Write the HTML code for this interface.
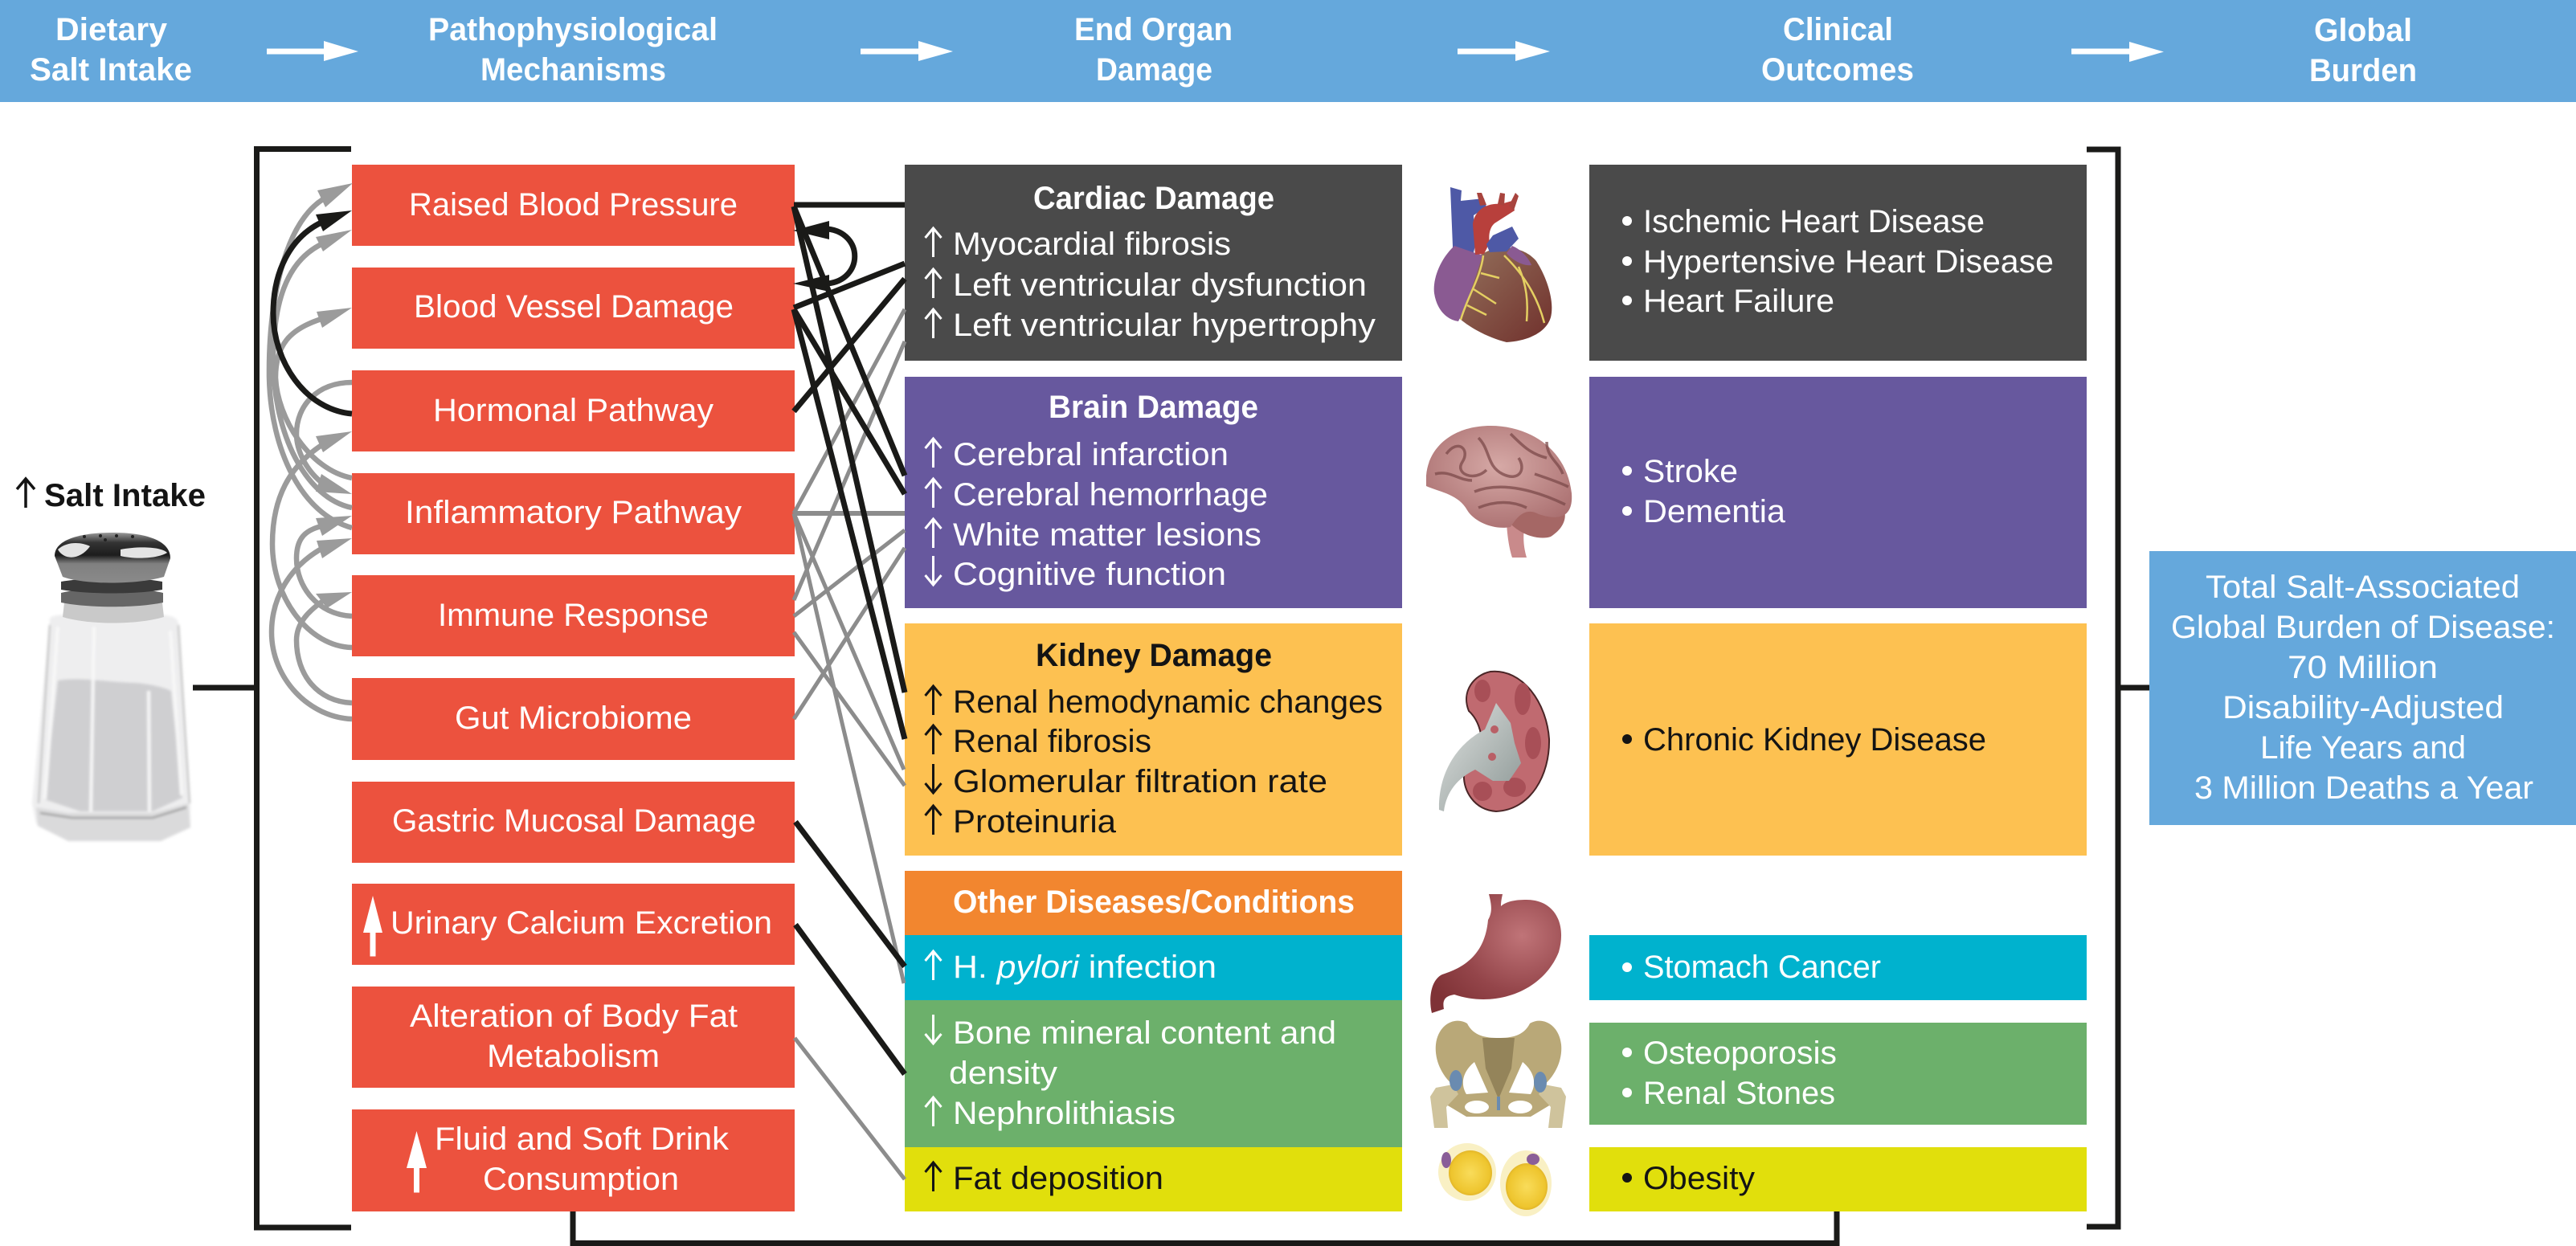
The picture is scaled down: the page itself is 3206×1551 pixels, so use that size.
<!DOCTYPE html>
<html lang="en">
<head>
<meta charset="utf-8">
<title>Salt Intake Diagram</title>
<style>
html,body{margin:0;padding:0;background:#fff;width:3206px;height:1551px;overflow:hidden}
svg{display:block}
text{font-family:"Liberation Sans",sans-serif;font-size:40px;fill:#fff}
.b{font-weight:bold}
.k{fill:#141414}
</style>
</head>
<body>
<svg xmlns="http://www.w3.org/2000/svg" width="3206" height="1551" viewBox="0 0 3206 1551">
<defs>
<linearGradient id="cap" x1="0" y1="0" x2="0" y2="1"><stop offset="0" stop-color="#9a9a9a"/><stop offset=".2" stop-color="#333"/><stop offset=".45" stop-color="#1d1d1d"/><stop offset=".62" stop-color="#808080"/><stop offset="1" stop-color="#8a8a8a"/></linearGradient>
<linearGradient id="kp" x1="0" y1="0" x2="1" y2="1"><stop offset="0" stop-color="#dfe2e0"/><stop offset="1" stop-color="#8b9694"/></linearGradient>
<radialGradient id="br" cx=".5" cy=".4" r=".7"><stop offset="0" stop-color="#d6a9a6"/><stop offset="1" stop-color="#a76b6c"/></radialGradient>
<radialGradient id="st" cx=".7" cy=".35" r=".8"><stop offset="0" stop-color="#c07478"/><stop offset=".6" stop-color="#94454a"/><stop offset="1" stop-color="#7f3236"/></radialGradient>
<radialGradient id="fat" cx=".5" cy=".5" r=".55"><stop offset="0" stop-color="#f9dc5a"/><stop offset=".8" stop-color="#eec52e"/><stop offset="1" stop-color="#d9a924"/></radialGradient>
<linearGradient id="hrt" x1="0" y1="0" x2="1" y2="1"><stop offset="0" stop-color="#94715c"/><stop offset="1" stop-color="#70302c"/></linearGradient>
<filter id="sf"><feGaussianBlur stdDeviation="1.5"/></filter>
</defs>

<!-- header -->
<rect x="0" y="0" width="3206" height="127" fill="#65a8dc"/>
<text class="b" x="69" y="50" textLength="139" lengthAdjust="spacingAndGlyphs">Dietary</text>
<text class="b" x="37" y="100" textLength="202" lengthAdjust="spacingAndGlyphs">Salt Intake</text>
<text class="b" x="533" y="50" textLength="360" lengthAdjust="spacingAndGlyphs">Pathophysiological</text>
<text class="b" x="598" y="100" textLength="231" lengthAdjust="spacingAndGlyphs">Mechanisms</text>
<text class="b" x="1337" y="50" textLength="197" lengthAdjust="spacingAndGlyphs">End Organ</text>
<text class="b" x="1364" y="100" textLength="145" lengthAdjust="spacingAndGlyphs">Damage</text>
<text class="b" x="2219" y="50" textLength="137" lengthAdjust="spacingAndGlyphs">Clinical</text>
<text class="b" x="2192" y="100" textLength="190" lengthAdjust="spacingAndGlyphs">Outcomes</text>
<text class="b" x="2880" y="51" textLength="122" lengthAdjust="spacingAndGlyphs">Global</text>
<text class="b" x="2874" y="101" textLength="134" lengthAdjust="spacingAndGlyphs">Burden</text>
<g fill="#fff">
<path d="M332 60.500H403V51L446 64 403 76V67.500H332Z"/>
<path d="M1071 60.500H1143V51L1186 64 1143 76V67.500H1071Z"/>
<path d="M1814 60.500H1886V51L1929 64 1886 76V67.500H1814Z"/>
<path d="M2578 60.500H2650V52L2693 64.500 2650 77V67.500H2578Z"/>
</g>

<!-- brackets -->
<g fill="none" stroke="#1a1a18" stroke-width="7">
<path d="M437 185.500H319.500V1528H437"/>
<path d="M240 856H319"/>
<path d="M2597 186H2636V1527H2597"/>
<path d="M2636 856H2675"/>
<path d="M713 1508V1547.500H2286V1508"/>
</g>

<!-- red boxes -->
<g fill="#ec523e">
<rect x="438" y="205" width="551" height="101"/>
<rect x="438" y="333" width="551" height="101"/>
<rect x="438" y="461" width="551" height="101"/>
<rect x="438" y="589" width="551" height="101"/>
<rect x="438" y="716" width="551" height="101"/>
<rect x="438" y="844" width="551" height="102"/>
<rect x="438" y="973" width="551" height="101"/>
<rect x="438" y="1100" width="551" height="101"/>
<rect x="438" y="1228" width="551" height="126"/>
<rect x="438" y="1381" width="551" height="127"/>
</g>
<text x="509" y="268" textLength="409" lengthAdjust="spacingAndGlyphs">Raised Blood Pressure</text>
<text x="515" y="395" textLength="398" lengthAdjust="spacingAndGlyphs">Blood Vessel Damage</text>
<text x="539" y="524" textLength="349" lengthAdjust="spacingAndGlyphs">Hormonal Pathway</text>
<text x="504" y="651" textLength="419" lengthAdjust="spacingAndGlyphs">Inflammatory Pathway</text>
<text x="545" y="779" textLength="337" lengthAdjust="spacingAndGlyphs">Immune Response</text>
<text x="566" y="907" textLength="295" lengthAdjust="spacingAndGlyphs">Gut Microbiome</text>
<text x="488" y="1035" textLength="453" lengthAdjust="spacingAndGlyphs">Gastric Mucosal Damage</text>
<text x="486" y="1162" textLength="475" lengthAdjust="spacingAndGlyphs">Urinary Calcium Excretion</text>
<text x="510" y="1278" textLength="408" lengthAdjust="spacingAndGlyphs">Alteration of Body Fat</text>
<text x="606" y="1328" textLength="215" lengthAdjust="spacingAndGlyphs">Metabolism</text>
<text x="541" y="1431" textLength="366" lengthAdjust="spacingAndGlyphs">Fluid and Soft Drink</text>
<text x="601" y="1481" textLength="244" lengthAdjust="spacingAndGlyphs">Consumption</text>
<g fill="#fff">
<path d="M464 1115 476 1161H467.500V1190.500H460.500V1161H452Z"/>
<path d="M518.500 1408 531 1454H522V1484.500H515V1454H506Z"/>
</g>

<!-- middle boxes -->
<rect x="1126" y="205" width="619" height="244" fill="#4a4a4a"/>
<rect x="1126" y="469" width="619" height="288" fill="#67589e"/>
<rect x="1126" y="776" width="619" height="289" fill="#fdc151"/>
<rect x="1126" y="1084" width="619" height="80" fill="#f2862f"/>
<rect x="1126" y="1164" width="619" height="81" fill="#00b2ce"/>
<rect x="1126" y="1245" width="619" height="183" fill="#6cb06b"/>
<rect x="1126" y="1428" width="619" height="80" fill="#e1df0c"/>

<!-- right boxes -->
<rect x="1978" y="205" width="619" height="244" fill="#4a4a4a"/>
<rect x="1978" y="469" width="619" height="288" fill="#67589e"/>
<rect x="1978" y="776" width="619" height="289" fill="#fdc151"/>
<rect x="1978" y="1164" width="619" height="81" fill="#00b2ce"/>
<rect x="1978" y="1273" width="619" height="127" fill="#6cb06b"/>
<rect x="1978" y="1428" width="619" height="80" fill="#e1df0c"/>
<rect x="2675" y="686" width="531" height="341" fill="#65a8dc"/>

<!-- left feedback curves -->
<g fill="none" stroke="#9b9b9b" stroke-width="6.500">
<path d="M438 657C375 640 337 560 335 470C334 380 352 280 402 248"/>
<path d="M438 632C380 620 341 540 340 450C340 380 355 325 402 303"/>
<path d="M438 595C385 585 345 520 343 470C343 430 360 410 400 397"/>
<path d="M438 476C395 476 369 505 369 540C369 560 380 585 402 602"/>
<path d="M438 767C395 765 369 730 369 695C369 670 380 660 400 655"/>
<path d="M438 806C385 805 339 745 339 677C339 620 360 580 402 553"/>
<path d="M438 875C395 873 369 840 369 797C369 775 385 760 402 748"/>
<path d="M438 895C385 893 338 845 338 787C338 745 360 705 402 682"/>
</g>
<g fill="#9b9b9b">
<path d="M439 228 395 237 405 258Z"/>
<path d="M438 286 393 295 402 313Z"/>
<path d="M438 383 394 388 401 408Z"/>
<path d="M438 537 393 543 402 563Z"/>
<path d="M438 615 400 590 393 612Z"/>
<path d="M438 642 393 645 401 667Z"/>
<path d="M438 670 394 673 401 695Z"/>
<path d="M438 737 393 739 407 757Z"/>
</g>
<path d="M438 515C380 510 340 450 340 390C340 340 360 295 402 276" fill="none" stroke="#1a1a18" stroke-width="7"/>
<path d="M438 262 393 267 402 288Z" fill="#1a1a18"/>

<!-- connectors grey -->
<g fill="none" stroke="#8c8c8c" stroke-width="5">
<path d="M988 639H1126" stroke-width="6"/>
<path d="M988 639 1126 385"/>
<path d="M988 639 1125 958"/>
<path d="M988 639 1048 900 1125 1224"/>
<path d="M988 747 1126 425"/>
<path d="M988 767 1126 660"/>
<path d="M988 787 1126 978"/>
<path d="M988 895 1126 682"/>
<path d="M989 1292 1126 1468"/>
</g>
<!-- connectors black -->
<g fill="none" stroke="#1a1a18" stroke-width="7">
<path d="M988 255H1126"/>
<path d="M988 257 1126 592"/>
<path d="M988 257 1126 862"/>
<path d="M988 383 1126 328"/>
<path d="M988 385 1126 615"/>
<path d="M988 385 1126 920"/>
<path d="M988 512 1126 347"/>
<path d="M990 1023 1126 1203"/>
<path d="M990 1151 1126 1337"/>
<path d="M1030 285C1075 290 1075 348 1030 353"/>
</g>
<g fill="#1a1a18">
<path d="M987 287 1032 275V298Z"/>
<path d="M987 353 1032 342V363Z"/>
</g>

<!-- middle text -->
<text class="b" x="1286" y="260" textLength="300" lengthAdjust="spacingAndGlyphs">Cardiac Damage</text>
<text x="1186" y="317" textLength="346" lengthAdjust="spacingAndGlyphs">Myocardial fibrosis</text>
<text x="1186" y="368" textLength="515" lengthAdjust="spacingAndGlyphs">Left ventricular dysfunction</text>
<text x="1186" y="418" textLength="526" lengthAdjust="spacingAndGlyphs">Left ventricular hypertrophy</text>
<text class="b" x="1305" y="520" textLength="261" lengthAdjust="spacingAndGlyphs">Brain Damage</text>
<text x="1186" y="579" textLength="343" lengthAdjust="spacingAndGlyphs">Cerebral infarction</text>
<text x="1186" y="629" textLength="392" lengthAdjust="spacingAndGlyphs">Cerebral hemorrhage</text>
<text x="1186" y="679" textLength="384" lengthAdjust="spacingAndGlyphs">White matter lesions</text>
<text x="1186" y="728" textLength="340" lengthAdjust="spacingAndGlyphs">Cognitive function</text>
<text class="b k" x="1289" y="829" textLength="294" lengthAdjust="spacingAndGlyphs">Kidney Damage</text>
<text class="k" x="1186" y="887" textLength="535" lengthAdjust="spacingAndGlyphs">Renal hemodynamic changes</text>
<text class="k" x="1186" y="936" textLength="247" lengthAdjust="spacingAndGlyphs">Renal fibrosis</text>
<text class="k" x="1186" y="986" textLength="466" lengthAdjust="spacingAndGlyphs">Glomerular filtration rate</text>
<text class="k" x="1186" y="1036" textLength="203" lengthAdjust="spacingAndGlyphs">Proteinuria</text>
<text class="b" x="1186" y="1136" textLength="500" lengthAdjust="spacingAndGlyphs">Other Diseases/Conditions</text>
<text x="1186" y="1217" textLength="328" lengthAdjust="spacingAndGlyphs">H. <tspan font-style="italic">pylori</tspan> infection</text>
<text x="1186" y="1299" textLength="477" lengthAdjust="spacingAndGlyphs">Bone mineral content and</text>
<text x="1181" y="1349" textLength="135" lengthAdjust="spacingAndGlyphs">density</text>
<text x="1186" y="1399" textLength="277" lengthAdjust="spacingAndGlyphs">Nephrolithiasis</text>
<text class="k" x="1186" y="1480" textLength="262" lengthAdjust="spacingAndGlyphs">Fat deposition</text>

<!-- thin arrows -->
<g fill="none" stroke="#fff" stroke-width="3">
<path d="M1161.500 320V284M1151.500 296 1161.500 284 1171.500 296"/>
<path d="M1161.500 371V335M1151.500 347 1161.500 335 1171.500 347"/>
<path d="M1161.500 421V385M1151.500 397 1161.500 385 1171.500 397"/>
<path d="M1161.500 582V546M1151.500 558 1161.500 546 1171.500 558"/>
<path d="M1161.500 632V596M1151.500 608 1161.500 596 1171.500 608"/>
<path d="M1161.500 682V646M1151.500 658 1161.500 646 1171.500 658"/>
<path d="M1161.500 692V728M1151.500 716 1161.500 728 1171.500 716"/>
<path d="M1161.500 1220V1184M1151.500 1196 1161.500 1184 1171.500 1196"/>
<path d="M1161.500 1263V1299M1151.500 1287 1161.500 1299 1171.500 1287"/>
<path d="M1161.500 1402V1366M1151.500 1378 1161.500 1366 1171.500 1378"/>
</g>
<g fill="none" stroke="#141414" stroke-width="3">
<path d="M1161.500 890V854M1151.500 866 1161.500 854 1171.500 866"/>
<path d="M1161.500 939V903M1151.500 915 1161.500 903 1171.500 915"/>
<path d="M1161.500 951V987M1151.500 975 1161.500 987 1171.500 975"/>
<path d="M1161.500 1039V1003M1151.500 1015 1161.500 1003 1171.500 1015"/>
<path d="M1161.500 1483V1447M1151.500 1459 1161.500 1447 1171.500 1459"/>
<path d="M32 632V596M21 609 32 596 43 609" stroke-width="3.500"/>
</g>
<text class="b k" x="55" y="630" textLength="201" lengthAdjust="spacingAndGlyphs">Salt Intake</text>

<!-- right text -->
<g fill="#fff">
<circle cx="2025" cy="275" r="6"/><circle cx="2025" cy="325" r="6"/><circle cx="2025" cy="374" r="6"/>
<circle cx="2025" cy="586" r="6"/><circle cx="2025" cy="636" r="6"/>
<circle cx="2025" cy="1204" r="6"/><circle cx="2025" cy="1310" r="6"/><circle cx="2025" cy="1360" r="6"/>
</g>
<g fill="#141414"><circle cx="2025" cy="920" r="6"/><circle cx="2025" cy="1466" r="6"/></g>
<text x="2045" y="289" textLength="425" lengthAdjust="spacingAndGlyphs">Ischemic Heart Disease</text>
<text x="2045" y="339" textLength="511" lengthAdjust="spacingAndGlyphs">Hypertensive Heart Disease</text>
<text x="2045" y="388" textLength="238" lengthAdjust="spacingAndGlyphs">Heart Failure</text>
<text x="2045" y="600" textLength="118" lengthAdjust="spacingAndGlyphs">Stroke</text>
<text x="2045" y="650" textLength="177" lengthAdjust="spacingAndGlyphs">Dementia</text>
<text class="k" x="2045" y="934" textLength="427" lengthAdjust="spacingAndGlyphs">Chronic Kidney Disease</text>
<text x="2045" y="1217" textLength="296" lengthAdjust="spacingAndGlyphs">Stomach Cancer</text>
<text x="2045" y="1324" textLength="241" lengthAdjust="spacingAndGlyphs">Osteoporosis</text>
<text x="2045" y="1374" textLength="239" lengthAdjust="spacingAndGlyphs">Renal Stones</text>
<text class="k" x="2045" y="1480" textLength="139" lengthAdjust="spacingAndGlyphs">Obesity</text>
<text x="2745" y="744" textLength="391" lengthAdjust="spacingAndGlyphs">Total Salt-Associated</text>
<text x="2702" y="794" textLength="478" lengthAdjust="spacingAndGlyphs">Global Burden of Disease:</text>
<text x="2847" y="844" textLength="187" lengthAdjust="spacingAndGlyphs">70 Million</text>
<text x="2766" y="894" textLength="350" lengthAdjust="spacingAndGlyphs">Disability-Adjusted</text>
<text x="2813" y="944" textLength="256" lengthAdjust="spacingAndGlyphs">Life Years and</text>
<text x="2731" y="994" textLength="422" lengthAdjust="spacingAndGlyphs">3 Million Deaths a Year</text>

<!-- salt shaker -->
<g>
<g filter="url(#sf)">
<path d="M62 772C60 765 78 765 100 765H190C212 765 224 768 222 780L237 1000V1030L200 1047H85L45 1025 40 1000Z" fill="#eeeeef"/>
<path d="M72 847C100 842 140 850 170 850C190 852 205 856 213 860L227 993 190 1010H100L55 995Z" fill="#cfcfd1"/>
<path d="M45 1005 85 1012H190L234 1000 237 1030 200 1047H85L47 1028Z" fill="#dadadb"/>
<path d="M72 780 56 995M212 785 226 990M117 780 113 1010M185 860 186 1010" stroke="#f8f8f8" stroke-width="4" fill="none"/>
<path d="M62 778 48 1000M222 778 236 1000" stroke="#b9b9b9" stroke-width="2" fill="none"/>
<path d="M50 1012 90 1018H190L232 1005" stroke="#8a8a8a" stroke-width="2" fill="none"/>
</g>
<path d="M80 750H202L204 768C170 778 110 778 78 768Z" fill="#c9c9c9"/>
<path d="M76 738C110 730 170 730 203 738V750C170 757 110 757 76 750Z" fill="#666"/>
<path d="M76 724C110 718 170 718 202 724V734C170 740 110 740 76 734Z" fill="#3a3a3a"/>
<path d="M68 692C68 670 105 663 140 663C180 663 212 672 212 695L204 718C170 728 105 728 78 718Z" fill="url(#cap)"/>
<path d="M72 684C84 673 102 675 112 680 100 697 80 698 72 684Z" fill="#e4e4e4"/>
<path d="M150 684C170 680 200 680 208 688 195 696 165 696 150 692Z" fill="#e4e4e4"/>
<g fill="#222"><circle cx="105" cy="668" r="2"/><circle cx="125" cy="667" r="2"/><circle cx="145" cy="667" r="2"/><circle cx="165" cy="668" r="2"/><circle cx="131" cy="672" r="2"/></g>
</g>

<!-- heart -->
<g>
<path d="M1805 233 1819 237 1818 250 1847 247 1850 258 1834 268 1836 306 1830 330H1808L1808 306Z" fill="#4e59a6"/>
<path d="M1843 317C1870 300 1900 310 1912 325 1925 345 1935 375 1930 395 1925 412 1905 424 1875 426 1850 420 1825 405 1815 395Z" fill="url(#hrt)"/>
<path d="M1810 306C1790 325 1783 350 1785 365 1788 385 1800 398 1815 400 1825 380 1835 350 1845 318Z" fill="#8a5a92"/>
<path d="M1882 306C1892 310 1902 320 1906 330 1895 332 1880 322 1875 315Z" fill="#8a5a92"/>
<path d="M1836 317 1833 279C1835 262 1850 252 1868 254L1882 250 1885 262 1860 278C1852 285 1853 298 1854 302L1847 316Z" fill="#b8403c"/>
<path d="M1850 304 1858 293 1882 282 1890 297 1875 313 1854 314Z" fill="#4e59a6"/>
<path d="M1864 254 1867 240 1873 241 1872 256ZM1878 256 1886 240 1890 244 1884 262ZM1842 256 1838 240 1844 240 1850 255Z" fill="#a8443e"/>
<g fill="none" stroke="#e4cf62" stroke-width="2.500">
<path d="M1846 318C1843 345 1826 370 1818 398"/>
<path d="M1834 360 1862 378M1826 380 1850 392M1843 340 1866 346"/>
<path d="M1872 318C1900 345 1915 375 1922 402M1890 332C1900 355 1902 375 1900 400"/>
</g>
</g>

<!-- brain -->
<g>
<path d="M1875 650C1876 670 1879 685 1882 694H1900C1896 680 1895 668 1898 650Z" fill="#c98a8b"/>
<path d="M1870 640C1890 670 1920 672 1930 668 1950 655 1950 640 1945 630 1925 620 1890 625 1870 640Z" fill="#a56765"/>
<path d="M1775 592C1778 555 1810 530 1855 530 1905 530 1950 560 1956 614 1958 640 1945 650 1915 640 1900 632 1890 640 1880 656 1860 660 1835 650 1826 635 1815 615 1790 612 1775 605 1775 592Z" fill="url(#br)"/>
<g fill="none" stroke="#7c4a4a" stroke-width="3.500" opacity=".75">
<path d="M1800 565C1815 545 1830 560 1820 575S1835 600 1850 585"/>
<path d="M1840 545C1855 560 1850 580 1870 590 1890 600 1900 585 1890 570"/>
<path d="M1880 540C1895 555 1905 565 1925 570"/>
<path d="M1835 612C1870 598 1915 612 1948 628"/>
<path d="M1840 632C1865 622 1885 625 1900 632"/>
<path d="M1786 590C1805 585 1815 598 1832 598"/>
<path d="M1910 590C1925 595 1940 600 1952 606"/>
<path d="M1925 550C1925 570 1940 575 1945 590"/>
</g>
</g>

<!-- kidney -->
<g>
<path d="M1855 836C1895 832 1925 875 1928 920 1929 965 1905 1008 1862 1010 1835 1008 1820 985 1822 960 1850 950 1850 905 1828 885 1818 860 1835 840 1855 836Z" fill="#c06a70" stroke="#4a2526" stroke-width="2"/>
<g fill="#a84f57"><ellipse cx="1895" cy="870" rx="10" ry="20"/><ellipse cx="1908" cy="925" rx="10" ry="20"/><ellipse cx="1885" cy="980" rx="14" ry="12"/><ellipse cx="1845" cy="985" rx="12" ry="12"/><ellipse cx="1845" cy="860" rx="10" ry="14"/></g>
<path d="M1862 875 1880 900 1885 925 1893 950 1878 972 1858 972 1836 958C1815 968 1800 985 1797 1010L1791 1008C1790 960 1815 925 1848 908Z" fill="url(#kp)"/>
<circle cx="1860" cy="908" r="5" fill="#b95f66"/><circle cx="1857" cy="942" r="5" fill="#b95f66"/>
</g>

<!-- stomach -->
<path d="M1853 1113C1856 1125 1858 1135 1852 1145 1848 1190 1820 1205 1795 1213 1780 1220 1778 1245 1782 1261L1797 1256C1795 1245 1798 1240 1810 1238 1860 1255 1920 1235 1940 1185 1950 1150 1935 1120 1900 1120 1885 1120 1875 1122 1868 1128 1868 1122 1869 1118 1870 1113Z" fill="url(#st)"/>

<!-- pelvis -->
<g>
<path d="M1787 1300C1790 1274 1812 1265 1826 1274 1834 1290 1850 1292 1865 1292 1880 1292 1896 1290 1904 1274 1918 1265 1940 1274 1943 1300 1945 1320 1935 1340 1920 1352L1930 1375 1905 1390H1825L1800 1375 1810 1352C1795 1340 1785 1320 1787 1300Z" fill="#b9a878"/>
<path d="M1845 1292H1885L1881 1330 1865 1368 1849 1330Z" fill="#94845a"/>
<path d="M1835 1322 1852 1360 1825 1362C1815 1345 1825 1330 1835 1322ZM1895 1322 1878 1360 1905 1362C1915 1345 1905 1330 1895 1322Z" fill="#fff"/>
<ellipse cx="1838" cy="1378" rx="15" ry="8" fill="#fff"/><ellipse cx="1892" cy="1378" rx="15" ry="8" fill="#fff"/>
<path d="M1787 1354 1780 1365 1785 1404H1802L1800 1378 1815 1362 1808 1350Z" fill="#cfc39c"/>
<path d="M1943 1354 1949 1365 1944 1404H1927L1930 1378 1915 1362 1922 1350Z" fill="#cfc39c"/>
<ellipse cx="1812" cy="1345" rx="8" ry="13" fill="#6a8bb0"/>
<ellipse cx="1917" cy="1347" rx="8" ry="13" fill="#6a8bb0"/>
<path d="M1863 1365H1867V1382H1863Z" fill="#6a8bb0"/>
</g>

<!-- fat cells -->
<g>
<ellipse cx="1826" cy="1459" rx="36" ry="36" fill="#f9f0c4"/>
<ellipse cx="1830" cy="1460" rx="27" ry="28" fill="url(#fat)"/>
<ellipse cx="1800" cy="1444" rx="6" ry="10" fill="#8a5e98"/>
<ellipse cx="1899" cy="1473" rx="32" ry="41" fill="#f9f0c4"/>
<ellipse cx="1900" cy="1477" rx="26" ry="29" fill="url(#fat)"/>
<ellipse cx="1908" cy="1443" rx="8" ry="7" fill="#8a5e98"/>
</g>
</svg>
</body>
</html>
